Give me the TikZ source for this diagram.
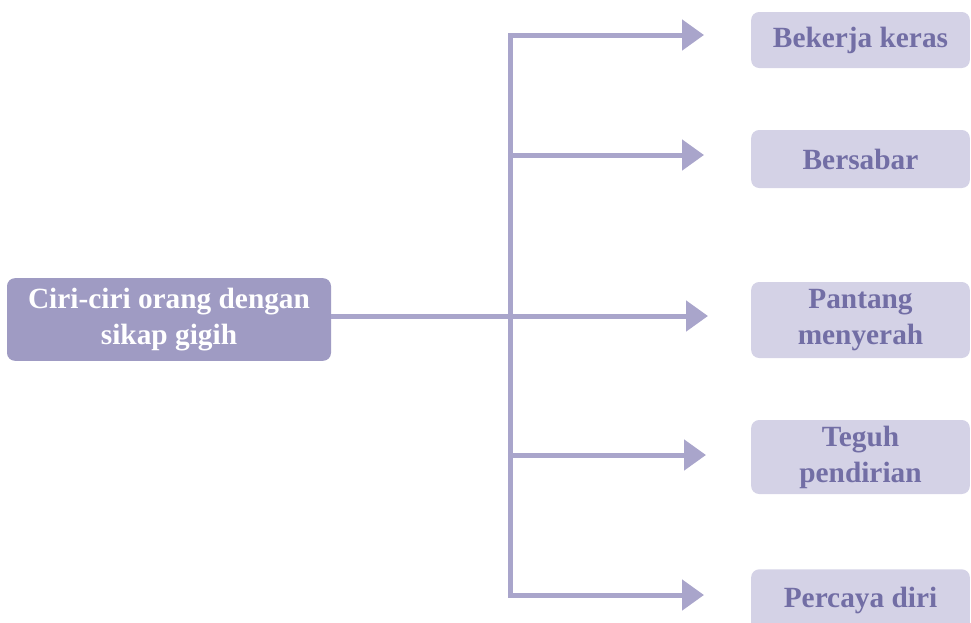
\documentclass[tikz,border=0pt]{standalone}
\usepackage{fontspec}
\setmainfont{Liberation Serif}
\usetikzlibrary{arrows.meta}
\definecolor{linkc}{HTML}{A9A5CB}
\definecolor{mainfill}{HTML}{9F9BC3}
\definecolor{itemfill}{HTML}{D4D2E6}
\definecolor{itemtext}{HTML}{726EA5}
\tikzset{
  mainbox/.style={fill=mainfill, rounded corners=6pt, minimum width=243pt, minimum height=62pt,
    align=center, text=white, font=\bfseries\fontsize{22}{27}\selectfont, inner sep=0pt},
  itembox/.style={fill=itemfill, rounded corners=6pt, minimum width=164pt,
    align=center, text=itemtext, font=\bfseries\fontsize{22}{27}\selectfont, inner sep=0pt},
  link/.style={draw=linkc, line width=3.75pt, line cap=rect},
  linkarrow/.style={link, -{Triangle[length=16.5pt,width=22.5pt]}, line cap=butt},
}
\begin{document}
\begin{tikzpicture}[x=0.75pt, y=-0.75pt]
\useasboundingbox (0,0) rectangle (971,622);
% source box
\node[mainbox] (src) at (169,319.5) {Ciri-ciri orang dengan\\sikap gigih};
% item boxes
\node[itembox, minimum height=42pt] (b1) at (860.5,40) {Bekerja keras};
\node[itembox, minimum height=43.5pt] (b2) at (860.5,159) {Bersabar};
\node[itembox, minimum height=57pt] (b3) at (860.5,320) {Pantang\\menyerah};
\node[itembox, minimum height=55.5pt] (b4) at (860.5,457) {Teguh\\pendirian};
\node[itembox, minimum height=46pt] (b5) at (860.5,600) {Percaya diri};
% junctions on the trunk and arrow tips
\coordinate (j1) at (510,35);
\coordinate (j2) at (510,155);
\coordinate (j3) at (510,316);
\coordinate (j4) at (510,455);
\coordinate (j5) at (510,595);
\coordinate (a1) at (704,35);
\coordinate (a2) at (704,155);
\coordinate (a3) at (708,316);
\coordinate (a4) at (706,455);
\coordinate (a5) at (704,595);
% trunk
\draw[link] (j1) -- (j5);
\draw[link, line cap=butt] (src.east |- j3) -- (j3);
% branches
\draw[linkarrow] (j1) -- (a1);
\draw[linkarrow] (j2) -- (a2);
\draw[linkarrow] (j3) -- (a3);
\draw[linkarrow] (j4) -- (a4);
\draw[linkarrow] (j5) -- (a5);
\end{tikzpicture}
\end{document}
